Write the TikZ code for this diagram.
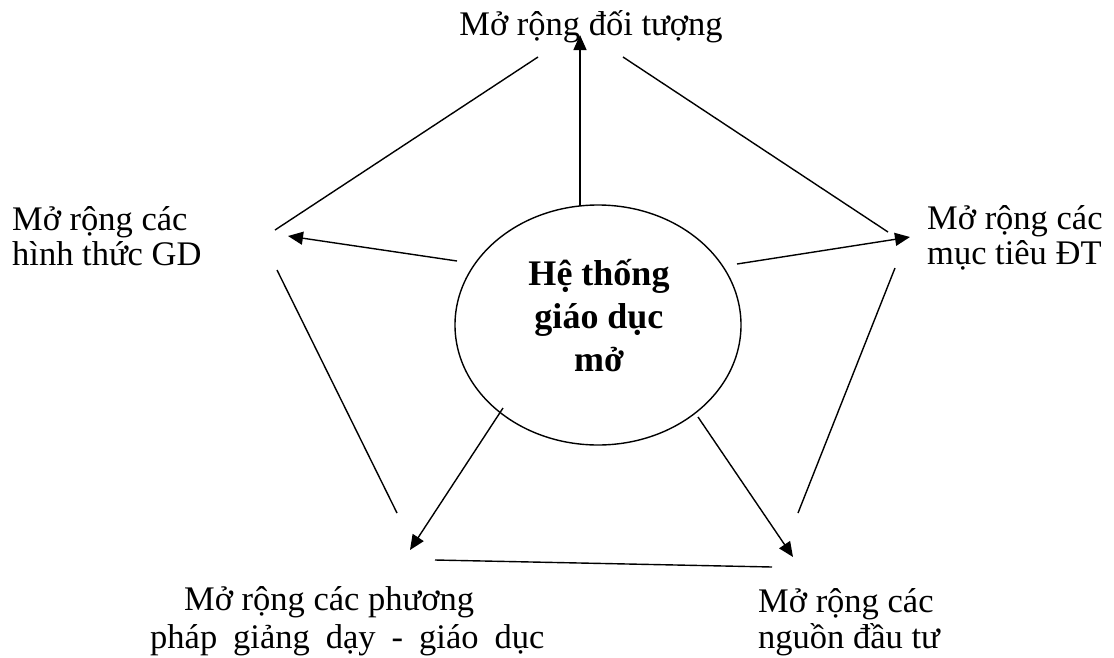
\documentclass[tikz,border=0pt]{standalone}
\usepackage{fontspec}
\setmainfont{Liberation Serif}
\usetikzlibrary{arrows.meta,shapes.geometric}
\newcommand{\wsp}{\hspace{16pt}}
\tikzset{
  lbl/.style={inner sep=0pt, font=\fontsize{34.5}{35}\selectfont, align=left},
  ctr/.style={inner sep=0pt, font=\fontsize{36}{43}\selectfont\bfseries, align=center},
  edge/.style={line width=1.4pt},
  arr/.style={line width=1.4pt, -{Triangle[length=15pt,width=13pt]}},
  oval/.style={draw, line width=1.4pt, ellipse, minimum width=286pt, minimum height=240pt, inner sep=0pt}
}
\begin{document}
\begin{tikzpicture}[x=1pt,y=-1pt]
\useasboundingbox (0,0) rectangle (1114,657);
% central ellipse
\node[oval] (E) at (598,325) {};
\node[ctr] (Et) at (599,316) {Hệ thống\\giáo dục\\mở};
% labels (base anchor = baseline of the last line)
\node[lbl, anchor=base west] (L) at (12,265) {Mở rộng các\\hình thức GD};
\node[lbl, anchor=base] (T) at (591,35) {Mở rộng đối tượng};
\node[lbl, anchor=base west] (R) at (927,264) {Mở rộng các\\mục tiêu ĐT};
\node[lbl, anchor=base west, font=\fontsize{34.5}{38}\selectfont] (BL) at (150,648) {\hspace*{34pt}Mở rộng các phương\\pháp\wsp giảng\wsp dạy\wsp -\wsp giáo\wsp dục};
\node[lbl, anchor=base west, font=\fontsize{34.5}{36}\selectfont] (BR) at (758,648) {Mở rộng các\\nguồn đầu tư};
% pentagon sides
\coordinate (p1a) at (275,230);
\coordinate (p1b) at (538,57);
\coordinate (p2a) at (623,57);
\coordinate (p2b) at (888,232);
\coordinate (p3a) at (277,270);
\coordinate (p3b) at (397,513);
\coordinate (p4a) at (435,560);
\coordinate (p4b) at (772,567);
\coordinate (p5a) at (895,268);
\coordinate (p5b) at (798,513);
\draw[edge] (p1a) -- (p1b);
\draw[edge] (p2a) -- (p2b);
\draw[edge] (p3a) -- (p3b);
\draw[edge] (p4a) -- (p4b);
\draw[edge] (p5a) -- (p5b);
% arrows from the centre
\coordinate (aU0) at (580,206);  \coordinate (aU) at (580,35);
\coordinate (aL0) at (457,261);  \coordinate (aL) at (288,236);
\coordinate (aR0) at (737,264);  \coordinate (aR) at (910,237);
\coordinate (aD0) at (503,408);  \coordinate (aD) at (410,550);
\coordinate (aE0) at (698,417);  \coordinate (aE) at (793,557);
\draw[arr] (aU0) -- (aU);
\draw[arr] (aL0) -- (aL);
\draw[arr] (aR0) -- (aR);
\draw[arr] (aD0) -- (aD);
\draw[arr] (aE0) -- (aE);
\end{tikzpicture}
\end{document}
